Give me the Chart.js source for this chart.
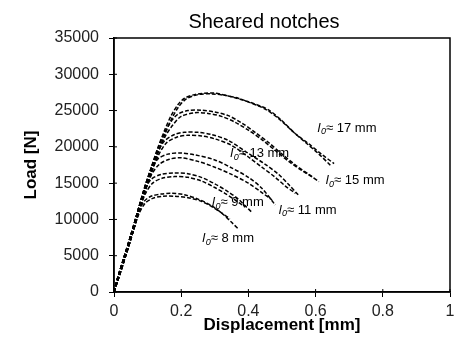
<!DOCTYPE html>
<html>
<head>
<meta charset="utf-8">
<script src="https://cdn.jsdelivr.net/npm/chart.js@4/dist/chart.umd.min.js"></script>
<style>
  html, body { margin: 0; padding: 0; background: #fff; }
  canvas { display: block; }
</style>
</head>
<body>
<canvas id="loadChart" width="456" height="344"></canvas>
<script>
// load-displacement curves, two specimens per notch size
const disp17a = [0, 0.01, 0.03, 0.05, 0.07, 0.09, 0.11, 0.13, 0.15, 0.17, 0.19, 0.21, 0.24, 0.27, 0.30, 0.34, 0.38, 0.42, 0.46, 0.50, 0.54, 0.58, 0.62, 0.655];
const load17a = [0, 1800, 4800, 7800, 11000, 14200, 17000, 19800, 22200, 24300, 25800, 26700, 27200, 27400, 27400, 27000, 26500, 25900, 25100, 23600, 21800, 20400, 18900, 17700];
const disp17b = [0, 0.012, 0.032, 0.052, 0.072, 0.092, 0.112, 0.132, 0.152, 0.172, 0.192, 0.215, 0.25, 0.29, 0.33, 0.37, 0.41, 0.45, 0.49, 0.53, 0.57, 0.61, 0.645];
const load17b = [0, 1700, 4600, 7600, 10800, 13900, 16700, 19400, 21800, 23900, 25500, 26600, 27200, 27300, 27100, 26700, 26000, 25200, 23900, 22200, 20600, 19000, 17400];

const disp15a = [0, 0.01, 0.03, 0.05, 0.07, 0.09, 0.11, 0.13, 0.15, 0.17, 0.19, 0.22, 0.26, 0.30, 0.34, 0.38, 0.42, 0.46, 0.50, 0.54, 0.58, 0.61];
const load15a = [0, 1800, 4800, 7800, 11000, 14200, 17000, 19700, 21900, 23500, 24500, 25000, 25050, 24800, 24300, 23300, 22000, 20600, 19000, 17500, 16200, 15200];
const disp15b = [0, 0.012, 0.032, 0.052, 0.072, 0.092, 0.112, 0.132, 0.152, 0.175, 0.20, 0.24, 0.28, 0.32, 0.36, 0.40, 0.44, 0.48, 0.52, 0.56, 0.595];
const load15b = [0, 1700, 4600, 7600, 10800, 13900, 16600, 19300, 21400, 23000, 24200, 24700, 24600, 24200, 23400, 22300, 21000, 19500, 18000, 16700, 15700];

const disp13a = [0, 0.01, 0.03, 0.05, 0.07, 0.09, 0.11, 0.13, 0.15, 0.18, 0.21, 0.25, 0.29, 0.34, 0.40, 0.45, 0.49, 0.52, 0.55];
const load13a = [0, 1800, 4800, 7800, 11000, 14200, 17000, 19300, 20800, 21700, 22000, 22000, 21700, 20900, 19100, 17600, 16200, 14800, 13300];
const disp13b = [0, 0.012, 0.032, 0.052, 0.072, 0.092, 0.112, 0.132, 0.155, 0.185, 0.22, 0.26, 0.30, 0.35, 0.40, 0.44, 0.48, 0.51, 0.54];
const load13b = [0, 1700, 4600, 7600, 10800, 13900, 16500, 18800, 20500, 21300, 21600, 21500, 21100, 20200, 18600, 17200, 15800, 14600, 13600];

const disp11a = [0, 0.01, 0.03, 0.05, 0.07, 0.09, 0.11, 0.13, 0.16, 0.20, 0.24, 0.30, 0.35, 0.40, 0.44, 0.48];
const load11a = [0, 1800, 4800, 7800, 11000, 14200, 16800, 18300, 19000, 19150, 18900, 18200, 17100, 15800, 14300, 12000];
const disp11b = [0, 0.012, 0.032, 0.052, 0.072, 0.092, 0.112, 0.135, 0.165, 0.20, 0.25, 0.30, 0.35, 0.40, 0.44, 0.47];
const load11b = [0, 1700, 4600, 7600, 10800, 13800, 16200, 17600, 18300, 18500, 18000, 17200, 16200, 15000, 13700, 12700];

const disp9a = [0, 0.01, 0.03, 0.05, 0.07, 0.09, 0.11, 0.14, 0.18, 0.22, 0.26, 0.30, 0.34, 0.37, 0.39, 0.41];
const load9a = [0, 1800, 4800, 7800, 11000, 13900, 15500, 16200, 16400, 16300, 15800, 14900, 13800, 12800, 11900, 11000];
const disp9b = [0, 0.012, 0.032, 0.052, 0.072, 0.092, 0.115, 0.145, 0.18, 0.22, 0.26, 0.30, 0.33, 0.36, 0.39];
const load9b = [0, 1700, 4600, 7600, 10700, 13400, 15000, 15700, 15900, 15800, 15300, 14400, 13600, 12700, 11700];

const disp8a = [0, 0.01, 0.03, 0.05, 0.07, 0.09, 0.11, 0.14, 0.17, 0.21, 0.25, 0.29, 0.32, 0.35, 0.37];
const load8a = [0, 1800, 4800, 7800, 10800, 12500, 13200, 13500, 13600, 13400, 12800, 11900, 10900, 9600, 8700];
const disp8b = [0, 0.012, 0.032, 0.052, 0.072, 0.092, 0.115, 0.145, 0.18, 0.22, 0.26, 0.29, 0.32, 0.345];
const load8b = [0, 1700, 4600, 7600, 10500, 12200, 12900, 13200, 13200, 13000, 12500, 11800, 10900, 10100];

// notch length labels and where they sit (displacement, load)
const notchLengths = ['17', '15', '13', '11', '9', '8'];
const labelDisp = [0.606, 0.63, 0.346, 0.49, 0.292, 0.263];
const labelLoad = [22600, 15430, 19150, 11300, 12400, 7440];

const FONT = '"Liberation Sans", Arial, sans-serif';

function toPoints(xs, ys) {
    return xs.map((x, i) => ({x: x, y: ys[i]}));
}

const curves = [
    [disp17a, load17a], [disp17b, load17b],
    [disp15a, load15a], [disp15b, load15b],
    [disp13a, load13a], [disp13b, load13b],
    [disp11a, load11a], [disp11b, load11b],
    [disp9a, load9a], [disp9b, load9b],
    [disp8a, load8a], [disp8b, load8b]
];

const data = {
    datasets: curves.map((c) => ({
        data: toPoints(c[0], c[1]),
        borderColor: '#000',
        borderWidth: 1.5,
        borderDash: [4, 2],
        pointRadius: 0,
        fill: false,
        tension: 0.3
    }))
};

// box around the plot, inner tick stubs, title and notch labels
const framePlugin = {
    id: 'framePlugin',
    afterDraw(chart) {
        const ctx = chart.ctx;
        const a = chart.chartArea;
        const sx = chart.scales.x;
        const sy = chart.scales.y;
        ctx.save();
        ctx.strokeStyle = '#000';
        ctx.lineWidth = 1.5;
        ctx.strokeRect(a.left, a.top, a.right - a.left, a.bottom - a.top);

        ctx.lineWidth = 1;
        ctx.beginPath();
        sx.ticks.forEach((t) => {
            const px = sx.getPixelForValue(t.value);
            ctx.moveTo(px, a.bottom);
            ctx.lineTo(px, a.bottom - 3);
        });
        sy.ticks.forEach((t) => {
            const py = sy.getPixelForValue(t.value);
            ctx.moveTo(a.left, py);
            ctx.lineTo(a.left + 3, py);
        });
        ctx.stroke();

        ctx.fillStyle = '#000';
        ctx.textBaseline = 'middle';
        ctx.textAlign = 'center';
        ctx.font = '20px ' + FONT;
        ctx.fillText('Sheared notches', a.left + 150, 22);

        ctx.textAlign = 'left';
        notchLengths.forEach((n, i) => {
            let x = sx.getPixelForValue(labelDisp[i]);
            const y = sy.getPixelForValue(labelLoad[i]);
            ctx.font = 'italic 13px ' + FONT;
            ctx.fillText('l', x, y);
            x += ctx.measureText('l').width + 0.5;
            ctx.font = 'italic 9px ' + FONT;
            ctx.fillText('0', x, y + 4);
            x += ctx.measureText('0').width;
            ctx.font = '13px ' + FONT;
            ctx.fillText('\u2248 ' + n + ' mm', x, y);
        });
        ctx.restore();
    }
};

const config = {
    type: 'line',
    data: data,
    options: {
        responsive: false,
        animation: false,
        devicePixelRatio: 1,
        layout: { padding: { left: 8, right: 6, top: 38, bottom: 2 } },
        plugins: {
            legend: { display: false },
            tooltip: { enabled: false },
            title: { display: false }
        },
        scales: {
            x: {
                type: 'linear',
                min: 0,
                max: 1,
                afterFit: (scale) => {
                    scale.height = 50;
                    scale.paddingRight = 0;
                },
                border: { display: true, color: '#000', width: 1.5 },
                grid: { display: true, drawOnChartArea: false, drawTicks: true, tickLength: 5, color: '#000' },
                ticks: {
                    stepSize: 0.2,
                    padding: 5,
                    color: '#222',
                    font: { family: FONT, size: 16 },
                    callback: (v) => String(Number(v.toFixed(1)))
                },
                title: {
                    display: true,
                    text: 'Displacement [mm]',
                    color: '#000',
                    font: { family: FONT, size: 17, weight: 'bold' },
                    padding: { top: 6, bottom: 6 }
                }
            },
            y: {
                min: 0,
                max: 35000,
                afterFit: (scale) => { scale.width = 106; },
                border: { display: true, color: '#000', width: 1.5 },
                grid: { display: true, drawOnChartArea: false, drawTicks: true, tickLength: 5, color: '#000' },
                ticks: {
                    stepSize: 5000,
                    padding: 10,
                    color: '#222',
                    font: { family: FONT, size: 16 },
                    callback: (v) => String(v)
                },
                title: {
                    display: true,
                    text: 'Load [N]',
                    color: '#000',
                    font: { family: FONT, size: 17, weight: 'bold' },
                    padding: { top: 13, bottom: 13 }
                }
            }
        }
    },
    plugins: [framePlugin]
};

var ctx = document.getElementById('loadChart').getContext('2d');
var loadChart = new Chart(ctx, config);
</script>
</body>
</html>
